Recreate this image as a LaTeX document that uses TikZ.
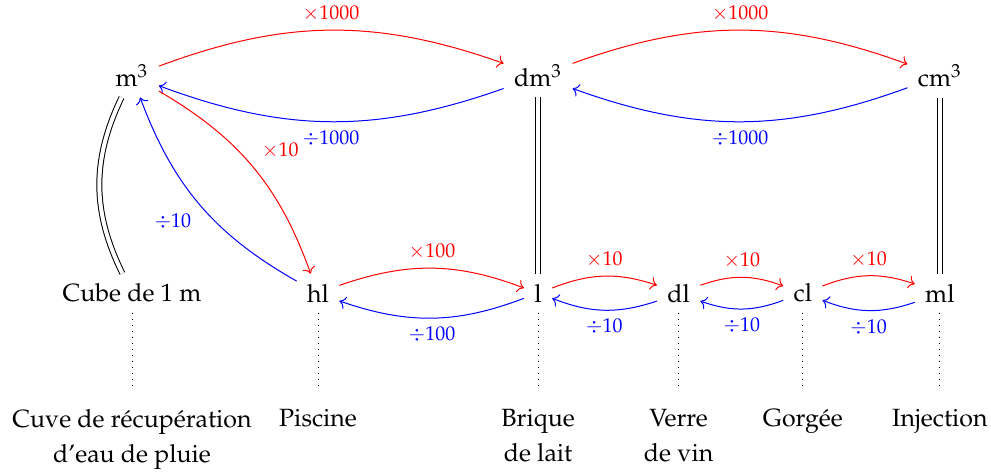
\documentclass[tikz,border=0pt]{standalone}
\usepackage[T1]{fontenc}
\usepackage{mathpazo}
\usetikzlibrary{arrows.meta,positioning}

\begin{document}
\begin{tikzpicture}[
    unite/.style={inner sep=4pt},
    objet/.style={align=center,anchor=north},
    mult/.style={->,red,bend left=20},
    divi/.style={->,blue,bend left=20},
    etiq/.style={font=\footnotesize},
    egal/.style={double,double distance=1.6pt},
    lien/.style={dotted,shorten >=1.7mm}]
  \useasboundingbox (0,0) rectangle (13.96,6.65);
  % unites de volume
  \node[unite] (m3) at (1.86,5.58) {m$^3$};
  \node[unite] (dm3) at (7.58,5.58) {dm$^3$};
  \node[unite] (cm3) at (13.24,5.58) {cm$^3$};
  % unites de capacite
  \node[unite] (cube) at (1.86,2.52) {Cube de 1 m};
  \node[unite] (hl) at (4.48,2.52) {hl};
  \node[unite] (l) at (7.58,2.52) {l};
  \node[unite] (dl) at (9.56,2.52) {dl};
  \node[unite] (cl) at (11.31,2.52) {cl};
  \node[unite] (ml) at (13.24,2.52) {ml};
  % exemples
  \node[objet] (cuve) at (1.86,1.01) {Cuve de r\'ecup\'eration\\[2pt]d'eau de pluie};
  \node[objet] (piscine) at (4.48,1.01) {Piscine};
  \node[objet] (brique) at (7.58,1.01) {Brique\\[2pt]de lait};
  \node[objet] (verre) at (9.56,1.01) {Verre\\[2pt]de vin};
  \node[objet] (gorgee) at (11.31,1.01) {Gorg\'ee};
  \node[objet] (injection) at (13.24,1.01) {Injection};
  % conversions
  \draw[mult] (m3) to node[above,etiq] {$\times1000$} (dm3);
  \draw[divi] (dm3) to node[below,etiq] {$\div1000$} (m3);
  \draw[mult] (dm3) to node[above,etiq] {$\times1000$} (cm3);
  \draw[divi] (cm3) to node[below,etiq] {$\div1000$} (dm3);
  \draw[mult] (m3) to node[above right,etiq] {$\times10$} (hl);
  \draw[divi] (hl) to node[below left,etiq] {$\div10$} (m3);
  \draw[mult] (hl) to node[above,etiq] {$\times100$} (l);
  \draw[divi] (l) to node[below,etiq] {$\div100$} (hl);
  \draw[mult] (l) to node[above,etiq] {$\times10$} (dl);
  \draw[divi] (dl) to node[below,etiq] {$\div10$} (l);
  \draw[mult] (dl) to node[above,etiq] {$\times10$} (cl);
  \draw[divi] (cl) to node[below,etiq] {$\div10$} (dl);
  \draw[mult] (cl) to node[above,etiq] {$\times10$} (ml);
  \draw[divi] (ml) to node[below,etiq] {$\div10$} (cl);
  % equivalences
  \draw[egal] (m3) to[bend right=26] (cube);
  \draw[egal] (dm3) -- (l);
  \draw[egal] (cm3) -- (ml);
  % pointilles
  \draw[lien] (cube) -- (cuve);
  \draw[lien] (hl) -- (piscine);
  \draw[lien] (l) -- (brique);
  \draw[lien] (dl) -- (verre);
  \draw[lien] (cl) -- (gorgee);
  \draw[lien] (ml) -- (injection);
\end{tikzpicture}
\end{document}
